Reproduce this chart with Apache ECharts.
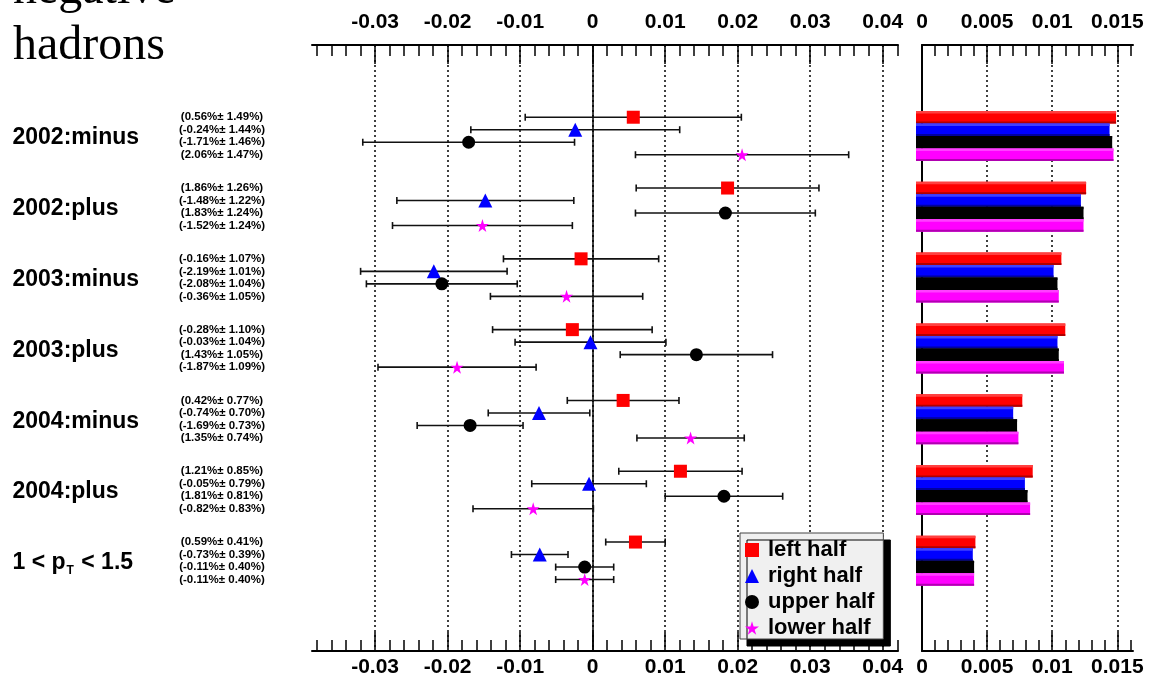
<!DOCTYPE html>
<html><head><meta charset="utf-8">
<script src="https://cdn.jsdelivr.net/npm/echarts@6/dist/echarts.min.js"></script>
<style>html,body{margin:0;padding:0;background:#fff}#c{width:1149px;height:682px}</style>
</head><body><div id="c"></div>
<script>
// ---- data ----
const groups = ['2002:minus','2002:plus','2003:minus','2003:plus','2004:minus','2004:plus','1 < p{sub|T} < 1.5'];
const setNames = ['left half','right half','upper half','lower half'];
const leftVal  = [0.56, 1.86, -0.16, -0.28, 0.42, 1.21, 0.59];
const leftErr  = [1.49, 1.26, 1.07, 1.10, 0.77, 0.85, 0.41];
const rightVal = [-0.24, -1.48, -2.19, -0.03, -0.74, -0.05, -0.73];
const rightErr = [1.44, 1.22, 1.01, 1.04, 0.70, 0.79, 0.39];
const upperVal = [-1.71, 1.83, -2.08, 1.43, -1.69, 1.81, -0.11];
const upperErr = [1.46, 1.24, 1.04, 1.05, 0.73, 0.81, 0.40];
const lowerVal = [2.06, -1.52, -0.36, -1.87, 1.35, -0.82, -0.11];
const lowerErr = [1.47, 1.24, 1.05, 1.09, 0.74, 0.83, 0.40];
const leftTicks  = [-0.03, -0.02, -0.01, 0, 0.01, 0.02, 0.03, 0.04];
const rightTicks = [0, 0.005, 0.01, 0.015];

// ---- layout / style ----
const vals = [leftVal, rightVal, upperVal, lowerVal];
const errs = [leftErr, rightErr, upperErr, lowerErr];
const colors = ['#ff0000', '#0000ff', '#000000', '#ff00ff'];
const lightC = ['#ff4040', '#4040ff', '#000000', '#ff40ff'];
const darkC  = ['#b00000', '#0000a0', '#000000', '#b000b0'];
const starPath = 'path://M50,0 L61,35 L98,35 L68,57 L79,91 L50,70 L21,91 L32,57 L2,35 L39,35 Z';
const symbols = ['rect', 'triangle', 'circle', starPath];
const symSizes = [13, 14, 13, 13];
const ROW = 0.1766;
const YMIN = -1.285, YMAX = 7.274;
const FONT = 'Liberation Sans';
const rowY = (g, j) => g + (j - 1.5) * ROW;

const minorLeft = []; for (let k = -19; k <= 21; k++) minorLeft.push(+(k * 0.002).toFixed(4));
const minorRight = []; for (let k = 0; k <= 16; k++) minorRight.push(+(k * 0.001).toFixed(4));
const fmt = v => (Math.abs(v) < 1e-12 ? '0' : String(+(+v).toFixed(4)));

const gridTop = 45, gridH = 606;
const grids = [
  {left: 312, top: gridTop, width: 586, height: gridH},
  {left: 922, top: gridTop, width: 211, height: gridH},
  {left: 0, top: gridTop, width: 312, height: gridH}
];

function majorAxis(gi, pos, min, max, ticks, margin, split) {
  return {
    type: 'value', gridIndex: gi, position: pos, min: min, max: max,
    axisLine: {show: true, onZero: false, lineStyle: {color: '#000', width: 2}},
    axisTick: {show: true, inside: true, length: 19, customValues: ticks, lineStyle: {color: '#000', width: 1.5}},
    axisLabel: {show: true, customValues: ticks, formatter: fmt, margin: margin,
      fontFamily: FONT, fontWeight: 'bold', fontSize: 21, color: '#000'},
    splitLine: {show: split, lineStyle: {color: '#000', width: 1.5, type: [2, 3]}},
    minorTick: {show: false}
  };
}
function minorAxis(gi, pos, min, max, ticks) {
  return {
    type: 'value', gridIndex: gi, position: pos, min: min, max: max,
    axisLine: {show: false, onZero: false},
    axisTick: {show: true, inside: true, length: 11, customValues: ticks, lineStyle: {color: '#000', width: 1.5}},
    axisLabel: {show: false}, splitLine: {show: false}
  };
}
const LMIN = -0.0387, LMAX = 0.0421, RMIN = 0, RMAX = 0.0162;
const xAxes = [
  majorAxis(0, 'bottom', LMIN, LMAX, leftTicks, 6, true),
  majorAxis(0, 'top', LMIN, LMAX, leftTicks, 12, false),
  minorAxis(0, 'bottom', LMIN, LMAX, minorLeft),
  minorAxis(0, 'top', LMIN, LMAX, minorLeft),
  majorAxis(1, 'bottom', RMIN, RMAX, rightTicks, 6, true),
  majorAxis(1, 'top', RMIN, RMAX, rightTicks, 12, false),
  minorAxis(1, 'bottom', RMIN, RMAX, minorRight),
  minorAxis(1, 'top', RMIN, RMAX, minorRight),
  {type: 'value', gridIndex: 2, min: 0, max: 312, show: false}
];
const yAxes = [
  {type: 'value', gridIndex: 0, min: YMIN, max: YMAX, inverse: true,
   axisLine: {show: true, onZero: true, onZeroAxisIndex: 0, lineStyle: {color: '#000', width: 1.5}},
   axisTick: {show: false}, axisLabel: {show: false}, splitLine: {show: false}},
  {type: 'value', gridIndex: 1, min: YMIN, max: YMAX, inverse: true,
   axisLine: {show: true, onZero: true, onZeroAxisIndex: 4, lineStyle: {color: '#000', width: 2}},
   axisTick: {show: false}, axisLabel: {show: false}, splitLine: {show: false}},
  {type: 'value', gridIndex: 2, min: YMIN, max: YMAX, inverse: true, show: false}
];

const series = [];
// error bars
for (let s = 0; s < 4; s++) {
  const data = vals[s].map((v, g) => [v / 100, (v - errs[s][g]) / 100, (v + errs[s][g]) / 100, rowY(g, s)]);
  series.push({
    type: 'custom', name: 'err' + s, xAxisIndex: 0, yAxisIndex: 0, silent: true, z: 3,
    encode: {x: [0, 1, 2], y: 3}, data: data,
    renderItem: (params, api) => {
      const y = api.value(3);
      const p1 = api.coord([api.value(1), y]);
      const p2 = api.coord([api.value(2), y]);
      const h = 3.5, st = {stroke: '#111', lineWidth: 1.6};
      return {type: 'group', children: [
        {type: 'line', shape: {x1: p1[0], y1: p1[1], x2: p2[0], y2: p2[1]}, style: st},
        {type: 'line', shape: {x1: p1[0], y1: p1[1] - h, x2: p1[0], y2: p1[1] + h}, style: st},
        {type: 'line', shape: {x1: p2[0], y1: p2[1] - h, x2: p2[0], y2: p2[1] + h}, style: st}
      ]};
    }
  });
}
// markers
for (let s = 0; s < 4; s++) {
  series.push({
    type: 'scatter', name: setNames[s], xAxisIndex: 0, yAxisIndex: 0, z: 5,
    symbol: symbols[s], symbolSize: symSizes[s],
    itemStyle: {color: colors[s], opacity: 1},
    data: vals[s].map((v, g) => [v / 100, rowY(g, s)])
  });
}
// error-size bars
for (let s = 0; s < 4; s++) {
  series.push({
    type: 'custom', name: 'bar' + s, xAxisIndex: 4, yAxisIndex: 1, silent: true, z: 2,
    encode: {x: 0, y: 1}, data: errs[s].map((e, g) => [e / 100, rowY(g, s)]),
    renderItem: (params, api) => {
      const y = api.value(1);
      const p0 = api.coord([0, y]);
      const p1 = api.coord([api.value(0), y]);
      const hh = api.size([0, ROW])[1];
      const x0 = p0[0] - 6, w = p1[0] - x0, top = p0[1] - hh / 2;
      return {type: 'group', children: [
        {type: 'rect', shape: {x: x0, y: top, width: w, height: hh}, style: {fill: colors[s]}},
        {type: 'rect', shape: {x: x0, y: top, width: w, height: 2.5}, style: {fill: lightC[s]}},
        {type: 'rect', shape: {x: x0, y: top + hh - 2, width: w, height: 2}, style: {fill: darkC[s]}}
      ]};
    }
  });
}
// category labels
series.push({
  type: 'scatter', name: 'catlabels', xAxisIndex: 8, yAxisIndex: 2, silent: true,
  symbolSize: 1, itemStyle: {color: 'rgba(0,0,0,0)', opacity: 1},
  data: groups.map((n, g) => [12, g + 0.03, n]),
  label: {show: true, position: 'right', distance: 0, formatter: p => p.data[2],
    fontFamily: FONT, fontWeight: 'bold', fontSize: 23, color: '#000', opacity: 1,
    rich: {sub: {fontFamily: FONT, fontWeight: 'bold', fontSize: 12, color: '#000', padding: [15, 1, 0, 1]}}}
});
// value labels
const valTexts = [];
for (let g = 0; g < groups.length; g++) {
  for (let s = 0; s < 4; s++) {
    valTexts.push([222, rowY(g, s), '(' + vals[s][g].toFixed(2) + '%\u00b1 ' + errs[s][g].toFixed(2) + '%)']);
  }
}
series.push({
  type: 'scatter', name: 'vallabels', xAxisIndex: 8, yAxisIndex: 2, silent: true,
  symbolSize: 1, itemStyle: {color: 'rgba(0,0,0,0)', opacity: 1}, data: valTexts,
  label: {show: true, position: 'inside', formatter: p => p.data[2], opacity: 1,
    fontFamily: FONT, fontWeight: 'bold', fontSize: 11.5, color: '#000'}
});

const chart = echarts.init(document.getElementById('c'), null, {renderer: 'canvas'});
chart.setOption({
  animation: false,
  backgroundColor: '#fff',
  grid: grids,
  xAxis: xAxes,
  yAxis: yAxes,
  legend: {
    data: setNames.map((n, i) => ({name: n, icon: symbols[i]})),
    orient: 'vertical', left: 740, top: 533,
    backgroundColor: '#f0f0f0', borderColor: '#444', borderWidth: 1, borderRadius: 0,
    shadowColor: '#000', shadowOffsetX: 7, shadowOffsetY: 7, shadowBlur: 0.01,
    padding: [6, 9, 0, 5], itemGap: 4, itemWidth: 14, itemHeight: 14,
    selectedMode: false,
    textStyle: {fontFamily: FONT, fontWeight: 'bold', fontSize: 22, color: '#000', padding: [0, 0, 0, 4]}
  },
  graphic: [
    {type: 'text', style: {x: 13, y: -10, text: 'negative', font: '48px "Liberation Serif"', fill: '#000', verticalAlign: 'middle', align: 'left'}},
    {type: 'text', style: {x: 13, y: 46.5, text: 'hadrons', font: '48px "Liberation Serif"', fill: '#000', verticalAlign: 'middle', align: 'left'}}
  ],
  series: series
});
</script></body></html>
